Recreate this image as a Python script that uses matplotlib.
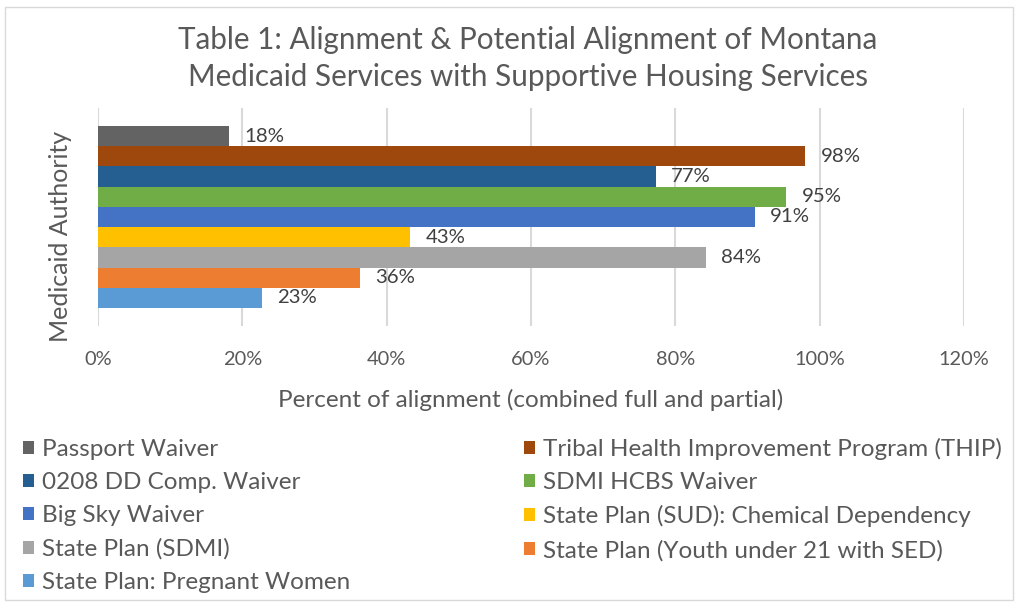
import matplotlib
matplotlib.use("Agg")
import matplotlib.pyplot as plt
from matplotlib.patches import Rectangle
from matplotlib.ticker import FuncFormatter

plt.rcParams['font.family'] = ['Lato', 'DejaVu Sans']

series = [
    "Passport Waiver",
    "Tribal Health Improvement Program (THIP)",
    "0208 DD Comp. Waiver",
    "SDMI HCBS Waiver",
    "Big Sky Waiver",
    "State Plan (SUD): Chemical Dependency",
    "State Plan (SDMI)",
    "State Plan (Youth under 21 with SED)",
    "State Plan: Pregnant Women",
]
values = [0.182, 0.980, 0.773, 0.954, 0.910, 0.433, 0.842, 0.363, 0.227]
colors = ["#636363", "#9E480E", "#255E91", "#70AD47", "#4472C4",
          "#FFC000", "#A5A5A5", "#ED7D31", "#5B9BD5"]
xticks = [0, 0.2, 0.4, 0.6, 0.8, 1.0, 1.2]

W, H = 1019, 603
fig = plt.figure(figsize=(W / 100, H / 100), dpi=100)
fig.patches.append(Rectangle((5 / W, 3 / H), 1008 / W, (H - 10) / H,
                             transform=fig.transFigure, fill=False,
                             edgecolor="#D9D9D9", linewidth=1.0))

ax = fig.add_axes([98 / W, (H - 326) / H, (964 - 98) / W, 218 / H])

n = len(series)
span = 0.835
bh = span / n
handles = []
for i, (name, v, c) in enumerate(zip(series, values, colors)):
    y = span / 2 - (i + 0.5) * bh
    b = ax.barh(y, v, height=bh, color=c, label=name, zorder=3)
    handles.append(b)
    ax.text(v + 0.021, y, f"{round(v * 100):.0f}%", va="center", ha="left",
            fontsize=14.7, color="#404040", zorder=4)

ax.set_xlim(0, 1.2)
ax.set_ylim(-0.5, 0.5)
ax.set_xticks(xticks)
ax.xaxis.set_major_formatter(FuncFormatter(lambda x, p: f"{x * 100:.0f}%"))
ax.set_yticks([])
ax.tick_params(axis="x", length=0, pad=18, labelsize=14.4, labelcolor="#595959")
ax.grid(axis="x", color="#D9D9D9", linewidth=1.5, zorder=0)
for s in ax.spines.values():
    s.set_visible(False)
ax.set_xlabel("Percent of alignment (combined full and partial)", fontsize=17.5,
              color="#595959", labelpad=15)
ax.set_ylabel("Medicaid Authority", fontsize=18, color="#595959")
ax.yaxis.set_label_coords(-0.030, 0.413)

fig.text(528 / W, 1 - 58.5 / H,
         "Table 1: Alignment & Potential Alignment of Montana\nMedicaid Services with Supportive Housing Services",
         ha="center", va="center", fontsize=21.3, color="#595959", linespacing=1.36)

order = [0, 2, 4, 6, 8, 1, 3, 5, 7]
leg = fig.legend([handles[i] for i in order], [series[i] for i in order],
                 ncol=2, loc="upper left", bbox_to_anchor=(23 / W, 1 - 438 / H),
                 borderaxespad=0, borderpad=0,
                 frameon=False, fontsize=17.5, handlelength=0.45, handleheight=0.45,
                 handletextpad=0.35, columnspacing=7.13, labelspacing=0.5,
                 labelcolor="#595959")

fig.savefig("out.png", dpi=100)
